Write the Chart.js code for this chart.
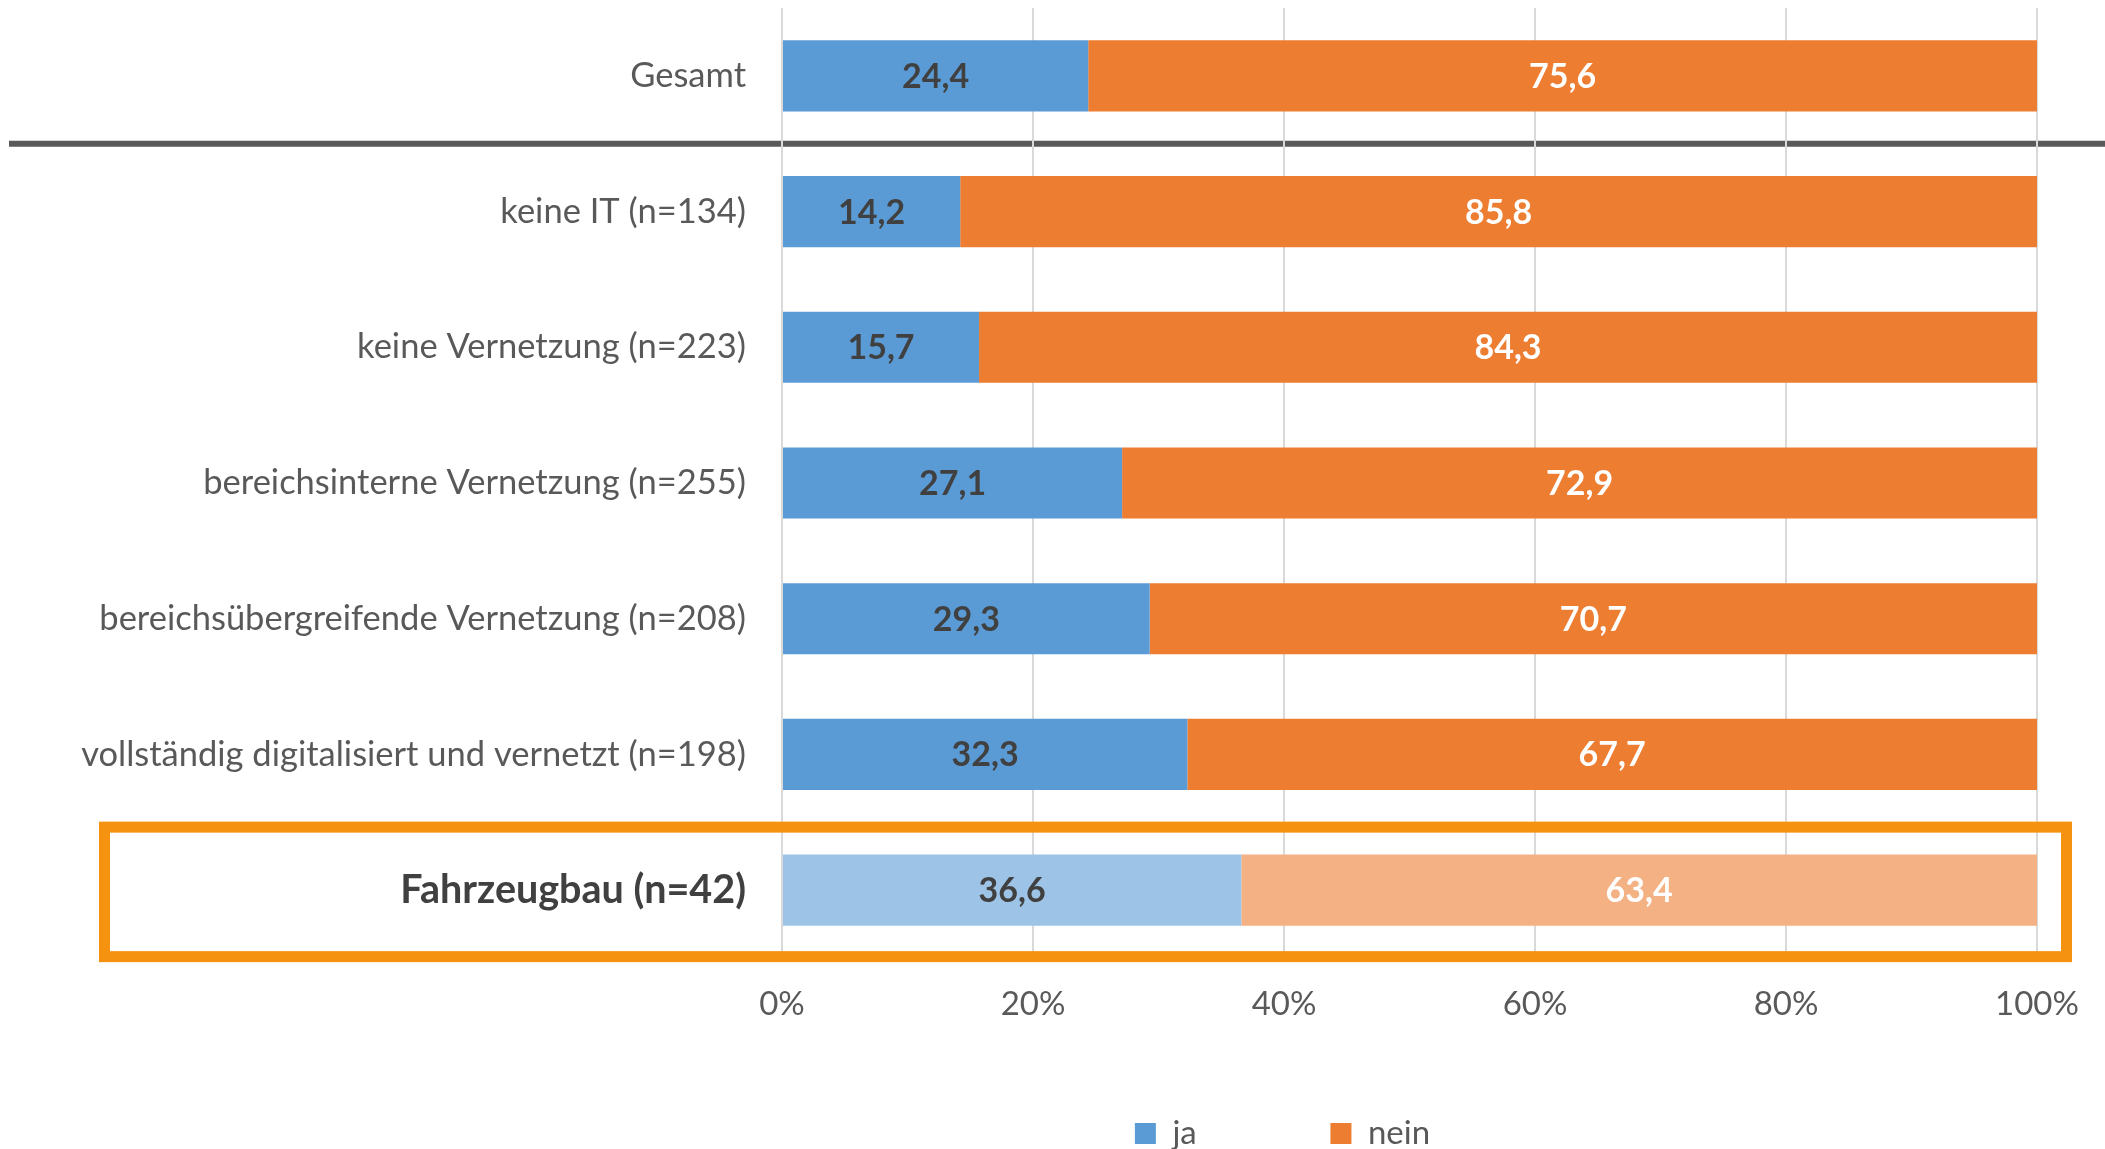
<!DOCTYPE html>
<html lang="de">
<head>
  <meta charset="UTF-8">
  <title>Fahrzeugbau</title>
  <script src="https://cdn.jsdelivr.net/npm/chart.js"></script>
  <style>
    html, body { margin: 0; padding: 0; background: #fff; }
    #wrap { width: 2105px; height: 1149px; }
  </style>
</head>
<body>
  <div id="wrap"><canvas id="chart" width="2105" height="1149"></canvas></div>

  <script>
    const categories = [
      'Gesamt',
      'keine IT (n=134)',
      'keine Vernetzung (n=223)',
      'bereichsinterne Vernetzung (n=255)',
      'bereichsübergreifende Vernetzung (n=208)',
      'vollständig digitalisiert und vernetzt (n=198)',
      'Fahrzeugbau (n=42)'
    ];
    const jaValues = [24.4, 14.2, 15.7, 27.1, 29.3, 32.3, 36.6];
    const neinValues = [75.6, 85.8, 84.3, 72.9, 70.7, 67.7, 63.4];
    const xTickValues = [0, 20, 40, 60, 80, 100];

    const highlightIndex = 6;
    const FONT = 'Lato';

    // separator under "Gesamt" and the orange frame around the last row
    const framePlugin = {
      id: 'frame',
      afterLayout(chart) {
        // legend sits under the right part of the chart, not the whole width
        const lg = chart.legend;
        lg.left = 528;
        lg.width = lg.right - lg.left;
      },
      beforeDraw(chart) {
        const y = chart.scales.y;
        const ctx = chart.ctx;
        const mid = (y.getPixelForValue(0) + y.getPixelForValue(1)) / 2;
        ctx.save();
        ctx.strokeStyle = '#595959';
        ctx.lineWidth = 6;
        ctx.beginPath();
        ctx.moveTo(9, mid);
        ctx.lineTo(chart.width, mid);
        ctx.stroke();
        ctx.restore();
      },
      afterDraw(chart) {
        const y = chart.scales.y;
        const ctx = chart.ctx;
        const yc = y.getPixelForValue(highlightIndex);
        ctx.save();
        ctx.strokeStyle = '#F59310';
        ctx.lineWidth = 11;
        ctx.strokeRect(104.5, yc - 63, chart.chartArea.right + 29.5 - 104.5, 129.5);
        ctx.restore();
      }
    };

    const valueLabels = {
      id: 'valueLabels',
      afterDatasetsDraw(chart) {
        const ctx = chart.ctx;
        ctx.save();
        ctx.font = 'bold 34px ' + FONT;
        ctx.textAlign = 'center';
        ctx.textBaseline = 'middle';
        chart.data.datasets.forEach((ds, di) => {
          const meta = chart.getDatasetMeta(di);
          ctx.fillStyle = di === 0 ? '#404040' : '#ffffff';
          meta.data.forEach((bar, i) => {
            const txt = ds.data[i].toFixed(1).replace('.', ',');
            ctx.fillText(txt, (bar.x + bar.base) / 2, bar.y + 1);
          });
        });
        ctx.restore();
      }
    };

    new Chart(document.getElementById('chart'), {
      type: 'bar',
      data: {
        labels: categories,
        datasets: [
          {
            label: 'ja',
            data: jaValues,
            backgroundColor: c => c.dataIndex === highlightIndex ? '#9DC3E6' : '#5B9BD5',
            borderWidth: 0,
            categoryPercentage: 1,
            barPercentage: 0.524
          },
          {
            label: 'nein',
            data: neinValues,
            backgroundColor: c => c.dataIndex === highlightIndex ? '#F4B183' : '#ED7D31',
            borderWidth: 0,
            categoryPercentage: 1,
            barPercentage: 0.524
          }
        ]
      },
      options: {
        indexAxis: 'y',
        responsive: false,
        animation: false,
        devicePixelRatio: 1,
        layout: { padding: { left: 0, right: 68, top: 8, bottom: -11 } },
        scales: {
          x: {
            stacked: true,
            min: 0,
            max: 100,
            afterBuildTicks: s => { s.ticks = xTickValues.map(v => ({ value: v })); },
            afterFit: s => { s.height = 149; s.paddingLeft = 0; s.paddingRight = 0; },
            grid: { color: '#D9D9D9', lineWidth: 2, drawTicks: false },
            border: { display: false },
            ticks: {
              padding: 27,
              color: '#595959',
              font: { family: FONT, size: 33 },
              callback: v => v + '%'
            }
          },
          y: {
            stacked: true,
            afterFit: s => { s.width = 782; s.paddingTop = 0; s.paddingBottom = 0; },
            grid: { display: false },
            border: { display: false },
            ticks: {
              padding: 28,
              autoSkip: false,
              color: c => c.index === highlightIndex ? '#404040' : '#595959',
              font: c => c.index === highlightIndex
                ? { family: FONT, size: 39.5, weight: 'bold' }
                : { family: FONT, size: 34.5 }
            }
          }
        },
        plugins: {
          tooltip: { enabled: false },
          legend: {
            position: 'bottom',
            labels: {
              boxWidth: 21,
              boxHeight: 21,
              padding: 10,
              color: '#595959',
              font: { family: FONT, size: 33 },
              generateLabels: chart => {
                const items = Chart.defaults.plugins.legend.labels.generateLabels(chart);
                // widen the first entry like the original legend spacing
                items[0].text = 'ja\u2003\u2003\u2003\u2003\u2003';
                items.forEach(it => { it.lineWidth = 0; });
                return items;
              }
            }
          }
        }
      },
      plugins: [framePlugin, valueLabels]
    });
  </script>
</body>
</html>
